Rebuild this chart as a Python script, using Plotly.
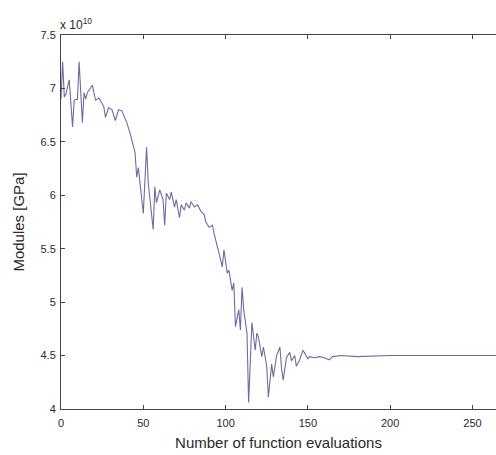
import plotly.graph_objects as go

# Number of function evaluations (x) and modulus values in units of 1e10 (y)
evaluations = [0, 1, 2, 3, 5, 7, 8, 10, 11, 13, 14, 15, 16, 19, 21, 23, 26, 27, 29, 31,
               33, 35, 37, 40, 42, 43, 45, 46, 47, 50, 52, 53, 56, 57, 58, 60, 62, 63, 64, 66,
               67, 69, 70, 72, 73, 75, 76, 78, 79, 81, 83, 85, 87, 88, 90, 92, 93, 95, 96, 98,
               99, 101, 102, 104, 105, 106, 108, 109, 110, 111, 113, 114, 116, 118, 119, 120, 122, 123, 125, 126,
               128, 129, 131, 133, 134, 135, 137, 139, 140, 142, 143, 145, 147, 150, 151, 154, 157, 160, 163, 165,
               170, 180, 200, 230, 260, 290]
modulus = [6.90, 7.25, 6.92, 6.95, 7.08, 6.64, 6.89, 6.90, 7.25, 6.68, 6.96, 6.90, 6.96, 7.03, 6.89, 6.91, 6.83, 6.73, 6.82, 6.80,
           6.70, 6.80, 6.79, 6.68, 6.58, 6.52, 6.40, 6.17, 6.26, 5.83, 6.45, 6.12, 5.68, 6.08, 5.93, 6.05, 5.96, 5.72, 6.02, 5.96,
           6.03, 5.89, 5.96, 5.79, 5.91, 5.86, 5.93, 5.88, 5.94, 5.89, 5.91, 5.85, 5.82, 5.75, 5.70, 5.72, 5.64, 5.52, 5.46, 5.33,
           5.49, 5.27, 5.30, 5.11, 5.18, 4.77, 4.93, 4.74, 5.14, 4.93, 4.71, 4.06, 4.81, 4.55, 4.71, 4.67, 4.49, 4.58, 4.40, 4.11,
           4.42, 4.30, 4.50, 4.58, 4.38, 4.27, 4.48, 4.53, 4.45, 4.50, 4.40, 4.46, 4.55, 4.47, 4.49, 4.48, 4.49, 4.48, 4.46, 4.49,
           4.50, 4.49, 4.50, 4.50, 4.50, 4.50]

x_ticks = [0, 50, 100, 150, 200, 250]
y_ticks = [4, 4.5, 5, 5.5, 6, 6.5, 7, 7.5]

axis_color = "#444444"
text_color = "#2a2a2a"

fig = go.Figure()
fig.add_trace(go.Scatter(
    x=evaluations, y=modulus, mode="lines",
    line=dict(color="#6c6ca2", width=1.1),
    showlegend=False, hoverinfo="skip",
))

fig.update_layout(
    width=496, height=455,
    margin=dict(l=61, r=0, t=35, b=46),
    paper_bgcolor="white", plot_bgcolor="white",
    font=dict(family="Liberation Sans, Arial, sans-serif", color=text_color, size=11),
    xaxis=dict(
        range=[0, 264.3], tickvals=x_ticks, ticktext=[str(v) for v in x_ticks],
        showgrid=False, zeroline=False,
        showline=True, linecolor=axis_color, linewidth=1, mirror="ticks",
        ticks="inside", ticklen=4, tickcolor=axis_color, ticklabelstandoff=4,
        title=dict(text="Number of function evaluations", font=dict(size=15, color=text_color), standoff=9),
    ),
    yaxis=dict(
        range=[4, 7.5], tickvals=y_ticks, ticktext=["4", "4.5", "5", "5.5", "6", "6.5", "7", "7.5"],
        showgrid=False, zeroline=False,
        showline=True, linecolor=axis_color, linewidth=1,
        ticks="inside", ticklen=4, tickcolor=axis_color, ticklabelstandoff=2,
        title=dict(text="Modules [GPa]", font=dict(size=15, color=text_color), standoff=12),
    ),
    annotations=[dict(
        text="x 10<sup>10</sup>", xref="paper", yref="paper", x=-0.007, y=1.0,
        xanchor="left", yanchor="bottom", yshift=1, showarrow=False,
        font=dict(size=12, color=text_color),
    )],
)

fig.write_html("out.html")
